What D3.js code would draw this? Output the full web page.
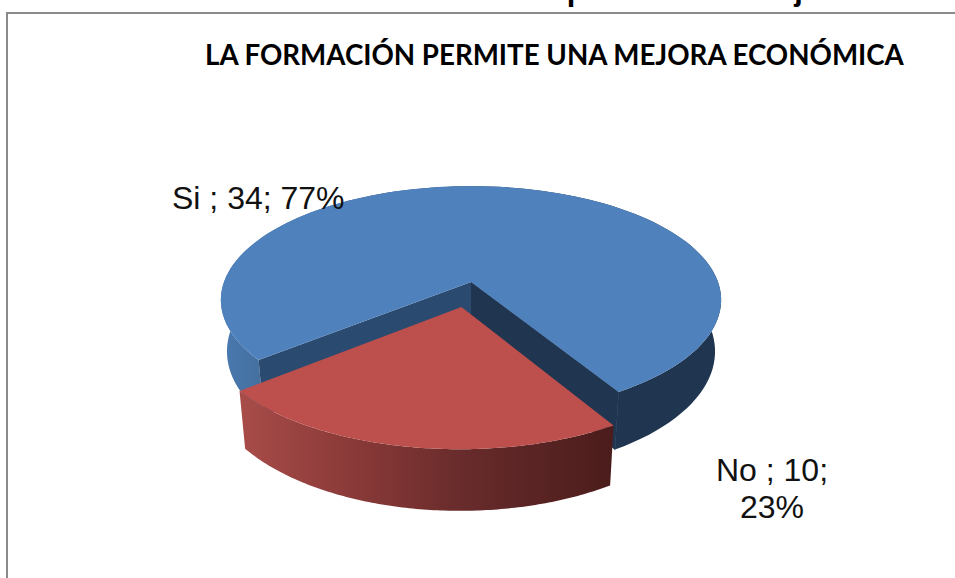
<!DOCTYPE html>
<meta charset="utf-8">
<style>
html, body { margin: 0; padding: 0; background: #fff; overflow: hidden; }
svg { display: block; }
.heading { font: bold 30.8px "Liberation Sans", Arial, sans-serif; fill: #000; }
.title { font: bold 27.7px "Lato", "Open Sans", sans-serif; fill: #000; }
.label { font: 32px "Liberation Sans", Arial, sans-serif; fill: #111; }
.frame { fill: none; stroke: #8a8a8a; stroke-width: 2; }
</style>
<body>
<script src="https://d3js.org/d3.v7.min.js"></script>
<script>
var categories = ["Si", "No"];
var counts = [34, 10];
var pageHeading = "GRÁFICO N° 12:  La formación permite una mejora";
var chartTitle = "LA FORMACIÓN PERMITE UNA MEJORA ECONÓMICA";

var width = 955, height = 578;

// perspective of the tilted disc, camera sits above and in front
var tilt = 0.158;
var explode = 0.22;
var firstSliceAngle = 230.7 * Math.PI / 180;

var xTop = d3.scaleLinear().domain([-1, 1]).range([224, 718]);
var yTop = d3.scaleLinear().domain([0, 1]).range([282, 393]);
var xBottom = d3.scaleLinear().domain([-1, 1]).range([230, 712]);
var yBottom = d3.scaleLinear().domain([0, 1]).range([332.2, 450.8]);

var pie = d3.pie().sort(null)
	.startAngle(firstSliceAngle)
	.endAngle(firstSliceAngle + 2 * Math.PI);
var slices = pie(counts);
var total = d3.sum(counts);

function project(angle, r, off, xs, ys) {
	var X = r * Math.sin(angle) + off[0];
	var Y = -r * Math.cos(angle) + off[1];
	var w = 1 - tilt * Y;
	return [xs(X / w), ys(Y / w)];
}

function rim(s, off, xs, ys) {
	var n = 120;
	return d3.range(n + 1).map(function(i) {
		return project(s.startAngle + (s.endAngle - s.startAngle) * i / n, 1, off, xs, ys);
	});
}

var line = d3.line();

var svg = d3.select("body").append("svg")
	.attr("width", width)
	.attr("height", height);

var defs = svg.append("defs");

function gradient(id, x1, x2, stops) {
	var g = defs.append("linearGradient")
		.attr("id", id)
		.attr("gradientUnits", "userSpaceOnUse")
		.attr("x1", x1).attr("x2", x2)
		.attr("y1", 0).attr("y2", 0);
	stops.forEach(function(s) {
		g.append("stop").attr("offset", s[0]).attr("stop-color", s[1]);
	});
}

gradient("blueWall", 222, 721, [[0, "#4a79b1"], [0.08, "#44709f"], [0.5, "#2b4a70"], [0.75, "#1f3550"], [1, "#1f3550"]]);
gradient("redWall", 239, 615, [[0, "#a84c49"], [0.3, "#8a3a38"], [0.6, "#682b2b"], [1, "#4a1c1b"]]);

// page text cut by the top edge, and the frame of the chart
svg.append("text")
	.attr("class", "heading")
	.attr("x", 118)
	.attr("y", 0)
	.text(pageHeading);

svg.append("path")
	.attr("class", "frame")
	.attr("d", line([[7, height], [7, 13], [width, 13]]));

svg.append("text")
	.attr("class", "title")
	.attr("x", 205)
	.attr("y", 65)
	.text(chartTitle);

// blue slice
var si = slices[0], no = slices[1];
var none = [0, 0];
var siTop = rim(si, none, xTop, yTop);
var siBottom = rim(si, none, xBottom, yBottom);
var apexTop = [xTop(0), yTop(0)];
var apexBottom = [xBottom(0), yBottom(0)];

svg.append("path")
	.attr("d", line(siTop.concat(siBottom.slice().reverse())))
	.attr("fill", "url(#blueWall)");

svg.append("path")
	.attr("d", line([apexTop, siTop[0], siBottom[0], apexBottom]))
	.attr("fill", "#2b4a70");

// stroked so no light seam shows against the outer wall
svg.append("path")
	.attr("d", line([apexTop, siTop[siTop.length - 1], siBottom[siBottom.length - 1], apexBottom]))
	.attr("fill", "#1f3550")
	.attr("stroke", "#1f3550")
	.attr("stroke-width", 0.8);

svg.append("path")
	.attr("d", line(siTop.concat([apexTop])))
	.attr("fill", "#4f81bd");

// red slice, pulled out along its bisector
var mid = (no.startAngle + no.endAngle) / 2;
var shift = [explode * Math.sin(mid), -explode * Math.cos(mid)];
var noTop = rim(no, shift, xTop, yTop);
var noBottom = rim(no, shift, xBottom, yBottom);
var noApex = project(0, 0, shift, xTop, yTop);

svg.append("path")
	.attr("d", line(noTop.concat(noBottom.slice().reverse())))
	.attr("fill", "url(#redWall)");

svg.append("path")
	.attr("d", line(noTop.concat([noApex])))
	.attr("fill", "#bd4f4c");

// data labels
function labelLines(i) {
	var pct = d3.format(".0f")(counts[i] / total * 100) + "%";
	var head = categories[i] + " ; " + counts[i] + ";";
	return i == 0 ? [head + " " + pct] : [head, pct];
}

var labelPos = [[172, 209], [772, 481]];
var labelAnchor = ["start", "middle"];

categories.forEach(function(c, i) {
	var t = svg.append("text")
		.attr("class", "label")
		.attr("text-anchor", labelAnchor[i])
		.attr("x", labelPos[i][0])
		.attr("y", labelPos[i][1]);
	labelLines(i).forEach(function(s, j) {
		t.append("tspan")
			.attr("x", labelPos[i][0])
			.attr("dy", j == 0 ? 0 : 37)
			.text(s);
	});
});
</script>
